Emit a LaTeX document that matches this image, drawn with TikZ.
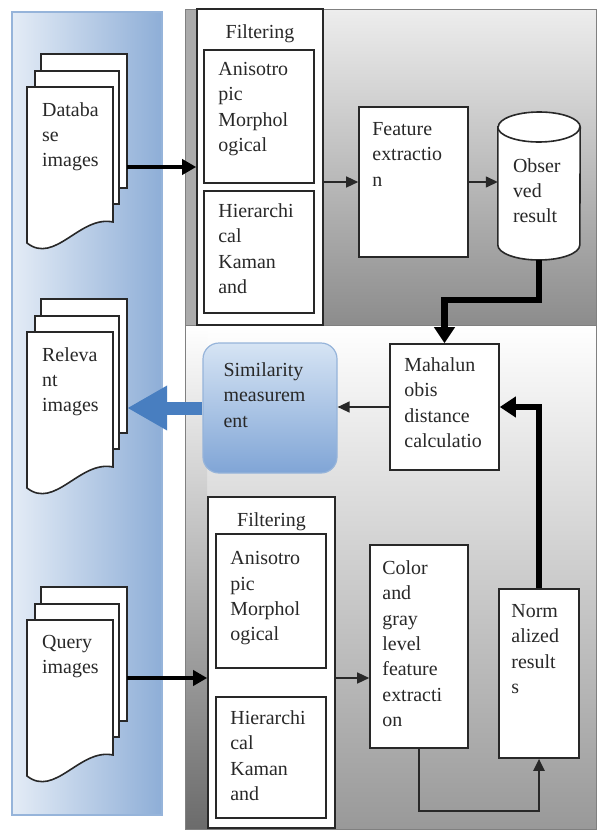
\documentclass[tikz,border=0pt]{standalone}
\usepackage{fontspec}
\setmainfont{Liberation Serif}
\usetikzlibrary{arrows.meta}

\definecolor{panelblue}{RGB}{142,174,215}
\definecolor{panelpale}{RGB}{228,236,246}
\definecolor{bluerim}{RGB}{150,180,218}
\definecolor{simpale}{RGB}{214,228,244}
\definecolor{simdeep}{RGB}{128,165,214}
\definecolor{fatblue}{RGB}{72,126,192}
\definecolor{ink}{RGB}{40,40,40}

\begin{document}
\begin{tikzpicture}[x=1bp, y=-1bp,
		box/.style={draw=ink, line width=1.6bp, fill=white, inner sep=0pt},
		sheet/.style={draw=ink, line width=1.6bp, fill=white},
		txt/.style={anchor=north west, inner sep=0pt, align=left, text=ink,
			font=\fontsize{20}{25.5}\selectfont},
		arr/.style={-{Triangle[length=12bp,width=11bp]}, line width=1.4bp, draw=ink},
		fat/.style={-{Triangle[length=16bp,width=20bp]}, line width=6.5bp},
		feed/.style={-{Triangle[length=14bp,width=15bp]}, line width=4.5bp}]
		\useasboundingbox (0,0) rectangle (602,830);
		
		% Draw panels
		\shade[top color=black!7, bottom color=black!45] (185,9) rectangle (596,325);
		\fill[black!33] (185,9) rectangle (197,325);
		\shade[top color=white, bottom color=black!40] (185,325) rectangle (596,829);
		\shade[top color=white, bottom color=black!58] (185,325) rectangle (207,829);
		\draw[black!50, line width=1bp] (185,9) rectangle (596,325) (185,325) rectangle (596,829);
		\shadedraw[left color=panelpale, right color=panelblue, draw=bluerim, line width=1.2bp] (12,12) rectangle (162,815);
		
		% Draw document stacks
		\foreach \n/\o/\lbl in {db/0/{Databa\\se\\images}, rel/245/{Releva\\nt\\images}, qry/533/{Query\\images}}{
			\draw[sheet] (41,54+\o) rectangle (127,188+\o);
			\draw[sheet] (35,71+\o) rectangle (119,204+\o);
			\draw[sheet] (27,87+\o) -- (113,87+\o) -- (113,222+\o) .. controls (80,215+\o) and (55,265+\o) .. (27,243+\o) -- cycle;
			\node[inner sep=0pt, minimum width=100bp, minimum height=190bp] (\n) at (77,145+\o) {};
			\node[txt] (\n-t) at (42,102+\o) {\lbl};
		}
		
		% Draw upper blocks
		\node[box, minimum width=126bp, minimum height=316bp] (filt1) at (260,167) {};
		\node[box, minimum width=110bp, minimum height=133bp] (aniso1) at (259,116.5) {};
		\node[box, minimum width=110bp, minimum height=122bp] (hier1) at (259,252) {};
		\node[box, minimum width=109bp, minimum height=150bp] (feat) at (413.5,182) {};
		\node[inner sep=0pt, minimum width=82bp, minimum height=148bp] (obs) at (539,186) {};
		\draw[sheet] (obs.west |- 0,127) -- (obs.west |- 0,245)
			arc[start angle=180, end angle=360, x radius=41bp, y radius=15bp] -- (obs.east |- 0,127)
			arc[start angle=0, end angle=180, x radius=41bp, y radius=15bp] -- cycle;
		\draw[sheet] (obs.west |- 0,127) arc[start angle=180, end angle=360, x radius=41bp, y radius=15bp];
		
		\node[txt, anchor=north] (filt1-t) at ([yshift=-16bp]filt1.north) {Filtering};
		\node[txt] (aniso1-t) at ([xshift=15bp,yshift=-13bp]aniso1.north west) {Anisotro\\pic\\Morphol\\ogical};
		\node[txt] (hier1-t) at ([xshift=15bp,yshift=-13bp]hier1.north west) {Hierarchi\\cal\\Kaman\\and};
		\node[txt] (feat-t) at ([xshift=14bp,yshift=-16bp]feat.north west) {Feature\\extractio\\n};
		\node[txt] (obs-t) at ([xshift=15bp,yshift=28bp]obs.west) {Obser\\ved\\result};
		
		% Draw middle blocks
		\node[box, minimum width=109bp, minimum height=126bp] (maha) at (444.5,407) {};
		\node[box, draw=bluerim, line width=1.2bp, top color=simpale, bottom color=simdeep,
			rounded corners=16bp, minimum width=134bp, minimum height=130bp] (sim) at (270,408) {};
		\node[txt] (maha-t) at ([xshift=15bp,yshift=-14bp]maha.north west) {Mahalun\\obis\\distance\\calculatio};
		\node[txt] (sim-t) at ([xshift=21bp,yshift=-20bp]sim.north west) {Similarity\\measurem\\ent};
		
		% Draw lower blocks
		\node[box, minimum width=127bp, minimum height=331bp] (filt2) at (271.5,662.5) {};
		\node[box, minimum width=110bp, minimum height=134bp] (aniso2) at (271,601) {};
		\node[box, minimum width=110bp, minimum height=121bp] (hier2) at (271,757.5) {};
		\node[box, minimum width=98bp, minimum height=203bp] (color) at (419,646.5) {};
		\node[box, minimum width=80bp, minimum height=169bp] (norm) at (539,673.5) {};
		
		\node[txt, anchor=north] (filt2-t) at ([yshift=-16bp]filt2.north) {Filtering};
		\node[txt] (aniso2-t) at ([xshift=15bp,yshift=-18bp]aniso2.north west) {Anisotro\\pic\\Morphol\\ogical};
		\node[txt] (hier2-t) at ([xshift=15bp,yshift=-14bp]hier2.north west) {Hierarchi\\cal\\Kaman\\and};
		\node[txt] (color-t) at ([xshift=13bp,yshift=-16bp]color.north west) {Color\\and\\gray\\level\\feature\\extracti\\on};
		\node[txt] (norm-t) at ([xshift=13bp,yshift=-16bp]norm.north west) {Norm\\alized\\result\\s};
		
		% Draw connectors
		\draw[feed] (db.east |- filt1.west) -- (filt1.west);
		\draw[arr] (filt1.east |- feat.west) -- (feat.west);
		\draw[arr] (feat.east) -- (feat.east -| obs.west);
		\draw[fat] (obs.south) -- ++(0,40) -| (maha.north);
		\draw[arr] (maha.west) -- (maha.west -| sim.east);
		\draw[fat] (norm.north) |- (maha.east);
		\draw[-{Triangle[length=40bp,width=42bp]}, line width=13bp, fatblue] (sim.west) -- (sim.west -| rel.east);
		\draw[feed] (qry.east) -- (qry.east -| filt2.west);
		\draw[arr] (filt2.east |- qry.east) -- (color.west |- qry.east);
		\draw[arr, line width=2.5bp] (color.south) -- ++(0,62) -| (norm.south);
	\end{tikzpicture}
\end{document}
